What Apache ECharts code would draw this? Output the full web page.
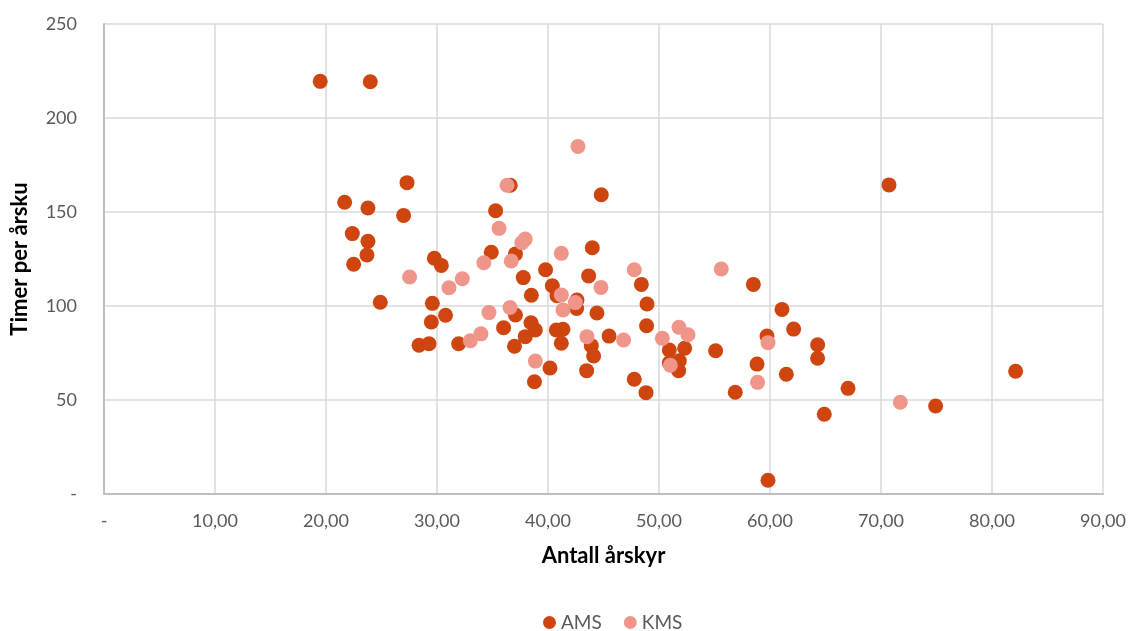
<!DOCTYPE html>
<html>
<head>
<meta charset="utf-8">
<script src="https://cdn.jsdelivr.net/npm/echarts@6/dist/echarts.min.js"></script>
<style>
  html, body { margin: 0; padding: 0; background: #fff; }
  #chart { width: 1129px; height: 631px; }
</style>
</head>
<body>
<div id="chart"></div>
<script>
// Antall årskyr (x) mot timer per årsku (y), per besetning
const amsX = [19.48, 23.99, 27.30, 21.68, 23.78, 26.99, 22.37, 23.78, 23.69, 22.49,
  29.76, 30.39, 24.89, 29.58, 30.77, 29.49, 28.38, 29.28, 31.95, 36.60,
  35.28, 34.89, 37.07, 37.77, 38.50, 39.78, 37.07, 38.47, 38.86, 36.00,
  37.95, 36.98, 38.78, 44.80, 43.99, 43.66, 48.41, 40.39, 40.81, 42.61,
  42.58, 48.92, 44.41, 48.88, 40.75, 41.35, 41.20, 40.18, 43.90, 44.11,
  43.48, 45.50, 47.77, 48.83, 50.93, 52.31, 50.93, 51.83, 51.77, 55.10,
  56.87, 70.72, 58.50, 61.08, 62.13, 59.73, 64.29, 64.29, 58.83, 61.47,
  67.03, 64.89, 74.92, 82.13, 59.82];
const amsY = [219.5, 219.3, 165.6, 155.2, 152.1, 148.2, 138.5, 134.4, 127.1, 122.2,
  125.4, 121.6, 102.0, 101.4, 95.1, 91.5, 79.1, 79.9, 79.9, 164.2,
  150.7, 128.6, 127.7, 115.1, 105.7, 119.3, 95.2, 91.1, 87.2, 88.4,
  83.7, 78.6, 59.7, 159.2, 131.0, 116.0, 111.5, 110.8, 105.5, 103.2,
  98.7, 101.1, 96.3, 89.5, 87.2, 87.6, 80.2, 67.0, 78.9, 73.4,
  65.6, 84.0, 61.0, 53.9, 76.6, 77.5, 69.8, 70.9, 65.6, 76.2,
  54.1, 164.4, 111.5, 98.2, 87.7, 84.0, 79.4, 72.2, 69.1, 63.7,
  56.2, 42.4, 46.8, 65.3, 7.3];

const kmsX = [36.31, 35.59, 37.95, 37.65, 27.53, 31.08, 32.28, 34.22, 36.69, 34.68,
  36.58, 33.00, 33.96, 38.86, 42.70, 41.20, 47.77, 44.77, 41.20, 42.46,
  41.35, 43.51, 46.81, 50.30, 51.80, 52.61, 51.02, 55.61, 59.82, 58.88,
  71.74];
const kmsY = [164.2, 141.3, 135.6, 133.7, 115.4, 109.7, 114.5, 123.0, 123.9, 96.5,
  99.2, 81.5, 85.2, 70.7, 184.9, 128.0, 119.3, 109.9, 105.9, 101.8,
  97.9, 83.7, 81.9, 82.8, 88.7, 84.7, 68.5, 119.7, 80.5, 59.4,
  48.8];

const seriesNames = ['AMS', 'KMS'];
const xTickLabels = ['-', '10,00', '20,00', '30,00', '40,00', '50,00', '60,00', '70,00', '80,00', '90,00'];
const yTickLabels = ['-', '50', '100', '150', '200', '250'];

const pair = (xs, ys) => xs.map((x, i) => [x, ys[i]]);

const fontFamily = 'Lato, "Open Sans", "DejaVu Sans", sans-serif';
const labelStyle = { color: '#595959', fontSize: 18, fontFamily };
const titleStyle = { color: '#000', fontSize: 22, fontWeight: 'bold', fontFamily };

const chart = echarts.init(document.getElementById('chart'), null, { renderer: 'canvas' });
chart.setOption({
  animation: false,
  backgroundColor: '#fff',
  grid: { left: 104, right: 26, top: 24, bottom: 137, containLabel: false },
  legend: {
    top: 613,
    left: 543,
    padding: 0,
    icon: 'circle',
    itemWidth: 13,
    itemHeight: 13,
    itemGap: 22,
    textStyle: { color: '#595959', fontSize: 19, fontFamily },
    data: seriesNames
  },
  xAxis: {
    type: 'value',
    min: 0, max: 90, interval: 10,
    name: 'Antall årskyr',
    nameLocation: 'middle',
    nameGap: 51,
    nameTextStyle: titleStyle,
    axisLine: { show: true, lineStyle: { color: '#BFBFBF', width: 2 } },
    axisTick: { show: false },
    axisLabel: Object.assign({ margin: 18, formatter: v => xTickLabels[Math.round(v / 10)] }, labelStyle),
    splitLine: { show: true, lineStyle: { color: '#D9D9D9', width: 1.5 } }
  },
  yAxis: {
    type: 'value',
    min: 0, max: 250, interval: 50,
    name: 'Timer per årsku',
    nameLocation: 'middle',
    nameGap: 73,
    nameTextStyle: titleStyle,
    axisLine: { show: true, lineStyle: { color: '#BFBFBF', width: 2 } },
    axisTick: { show: false },
    axisLabel: Object.assign({ margin: 27, formatter: v => yTickLabels[Math.round(v / 50)] }, labelStyle),
    splitLine: { show: true, lineStyle: { color: '#D9D9D9', width: 1.5 } }
  },
  series: [
    {
      name: seriesNames[0],
      type: 'scatter',
      symbolSize: 15,
      itemStyle: { color: '#CF450F', opacity: 1 },
      data: pair(amsX, amsY)
    },
    {
      name: seriesNames[1],
      type: 'scatter',
      symbolSize: 15,
      itemStyle: { color: '#EF9589', opacity: 1 },
      data: pair(kmsX, kmsY)
    }
  ]
});
</script>
</body>
</html>
